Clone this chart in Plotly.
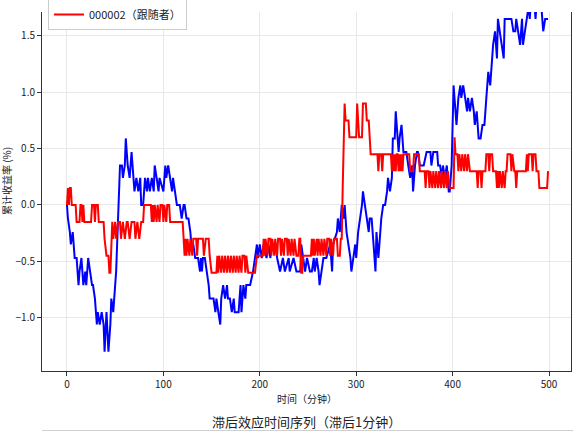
import plotly.graph_objects as go

# Leader (blue) cumulative % change, sampled at readable breakpoints (minute, value)
leader_t = [0,1,3,4,6,8,10,12,13,15,17,19,20,22,24,26,27,29,31,32,34,36,38,39,41,43,45,46,48,50,51,53,55,57,58,60,61,63,65,67,69,70,72,74,76,77,79,81,83,84,86,88,90,91,93,95,96,100,102,103,105,107,109,110,112,114,117,119,121,122,124,126,128,129,131,133,136,138,139,140,141,143,145,147,148,152,154,155,157,159,160,162,164,166,167,169,171,173,174,178,180,181,183,185,186,190,193,195,197,198,200,202,204,207,209,211,212,216,218,221,224,226,230,231,235,238,242,243,245,247,249,252,254,256,257,259,261,262,264,266,269,273,275,276,280,281,283,285,287,288,290,292,294,295,297,299,300,302,304,306,307,309,311,313,314,316,318,320,321,323,325,326,328,330,332,333,335,337,338,340,341,344,345,347,349,352,354,356,358,359,361,363,364,366,370,373,377,378,380,384,385,387,389,390,392,394,396,397,399,401,403,404,406,408,409,411,413,415,416,418,420,422,423,425,427,429,431,433,435,437,439,441,442,444,446,447,449,451,453,454,461,463,465,466,468,470,472,473,475,477,479,480,481,485,486,487,492,493,494,496,499]
leader_v = [0,-0.12,-0.24,-0.35,-0.24,-0.47,-0.47,-0.71,-0.59,-0.47,-0.71,-0.59,-0.71,-0.47,-0.59,-0.71,-0.71,-0.83,-1.06,-0.95,-1.06,-0.95,-1.06,-1.30,-0.95,-1.30,-1.06,-0.83,-0.95,-0.71,-0.59,-0.12,0.35,0.35,0.24,0.35,0.59,0.35,0.24,0.47,0.24,0.12,0.24,0.12,0.24,0.0,0.0,0.24,0.12,0.24,0.12,0.24,0.12,0.35,0.24,0.12,0.24,0.12,0.35,0.24,0.35,0.24,0.12,0.24,0.12,0.0,0.0,-0.12,0.0,0.0,-0.12,-0.12,-0.24,-0.35,-0.35,-0.47,-0.47,-0.59,-0.47,-0.59,-0.47,-0.47,-0.59,-0.71,-0.83,-0.83,-0.95,-0.83,-0.95,-1.06,-0.83,-0.71,-0.83,-0.71,-0.83,-0.83,-0.95,-0.83,-0.95,-0.95,-0.71,-0.95,-0.71,-0.83,-0.71,-0.71,-0.59,-0.47,-0.35,-0.47,-0.35,-0.47,-0.35,-0.47,-0.35,-0.47,-0.35,-0.35,-0.47,-0.59,-0.47,-0.59,-0.47,-0.59,-0.47,-0.59,-0.59,-0.35,-0.47,-0.59,-0.47,-0.59,-0.59,-0.47,-0.59,-0.47,-0.59,-0.71,-0.59,-0.47,-0.47,-0.35,-0.59,-0.35,-0.24,-0.12,-0.24,0.0,-0.12,0.0,-0.24,-0.35,-0.47,-0.59,-0.47,-0.35,-0.47,-0.24,-0.12,0.0,0.12,0.0,-0.12,-0.24,-0.12,-0.12,-0.35,-0.59,-0.24,-0.47,-0.24,-0.12,0.0,0.0,0.12,0.24,0.12,0.24,0.59,0.59,0.83,0.47,0.59,0.71,0.47,0.47,0.35,0.24,0.35,0.12,0.35,0.47,0.47,0.35,0.35,0.47,0.47,0.35,0.47,0.47,0.35,0.35,0.24,0.35,0.24,0.35,0.12,0.12,0.35,1.06,0.83,0.71,0.95,1.06,0.95,1.06,0.95,0.83,0.95,0.83,0.95,0.83,0.71,0.83,0.59,0.59,0.71,0.71,0.95,1.18,1.06,1.30,1.42,1.54,1.30,1.65,1.54,1.42,1.30,1.65,1.65,1.54,1.54,1.65,1.54,1.42,1.65,1.42,1.54,1.65,1.77,1.65,1.77,1.77,1.65,1.77,1.77,1.65,1.54,1.65,1.65]

# Follower (red) cumulative % change
follower_t = [0,1,2,3,4,5,9,10,13,14,15,16,17,18,25,26,28,29,30,32,33,38,39,41,43,44,45,46,47,48,50,51,53,55,56,58,60,62,63,65,67,70,71,73,75,77,79,80,87,88,89,90,91,93,94,96,97,99,100,101,103,104,106,107,120,121,122,123,124,125,127,128,130,131,134,135,136,141,142,144,147,148,150,155,156,157,158,160,161,163,164,166,167,169,170,172,173,175,176,178,179,181,182,184,185,186,188,195,197,203,204,205,206,208,209,211,212,213,215,216,218,219,221,222,223,225,226,228,229,230,232,233,235,236,238,240,241,242,243,244,245,253,254,255,256,257,259,260,261,263,264,266,267,269,270,272,273,274,276,277,280,281,283,284,285,286,288,289,292,293,300,301,302,303,306,307,310,311,313,314,315,322,323,324,326,327,328,336,337,338,339,340,341,342,343,344,345,346,347,348,349,355,356,359,360,365,366,371,372,373,375,376,377,379,380,382,383,385,386,388,389,391,392,394,395,397,401,402,403,405,406,407,409,410,412,413,415,416,418,425,426,427,429,430,431,434,435,437,438,439,441,442,445,446,447,448,449,451,452,454,455,456,457,460,461,462,464,465,466,467,476,477,478,479,482,483,484,486,487,489,490,497,498,499]
follower_v = [0,0.15,0.0,0.15,0.15,0.0,0.0,-0.15,-0.15,0.0,0.0,-0.15,0.0,-0.15,-0.15,0.0,0.0,-0.15,0.0,0.0,-0.15,-0.15,-0.3,-0.45,-0.45,-0.6,-0.6,-0.3,-0.15,-0.3,-0.15,-0.3,-0.15,-0.15,-0.3,-0.15,-0.3,-0.15,-0.15,-0.3,-0.15,-0.15,-0.3,-0.15,-0.3,-0.15,-0.15,0.0,0.0,-0.15,0.0,-0.15,0.0,-0.15,0.0,-0.15,0.0,0.0,-0.15,0.0,-0.15,0.0,0.0,-0.15,-0.15,-0.3,-0.45,-0.3,-0.45,-0.3,-0.45,-0.3,-0.45,-0.3,-0.3,-0.45,-0.3,-0.3,-0.45,-0.3,-0.3,-0.45,-0.6,-0.6,-0.45,-0.6,-0.45,-0.6,-0.45,-0.6,-0.45,-0.6,-0.45,-0.6,-0.45,-0.6,-0.45,-0.6,-0.45,-0.6,-0.45,-0.6,-0.45,-0.45,-0.6,-0.45,-0.6,-0.6,-0.45,-0.45,-0.3,-0.45,-0.3,-0.45,-0.3,-0.3,-0.45,-0.3,-0.45,-0.3,-0.45,-0.3,-0.3,-0.45,-0.3,-0.45,-0.3,-0.3,-0.45,-0.3,-0.45,-0.3,-0.45,-0.3,-0.45,-0.45,-0.3,-0.3,-0.6,-0.6,-0.45,-0.45,-0.3,-0.45,-0.3,-0.45,-0.3,-0.45,-0.3,-0.45,-0.3,-0.45,-0.3,-0.45,-0.3,-0.3,-0.45,-0.3,-0.45,-0.3,-0.3,-0.45,-0.45,-0.3,-0.3,0.15,0.9,0.75,0.75,0.6,0.6,0.9,0.75,0.6,0.6,0.9,0.9,0.75,0.75,0.6,0.45,0.45,0.3,0.45,0.45,0.3,0.45,0.45,0.3,0.45,0.3,0.45,0.3,0.45,0.45,0.3,0.45,0.3,0.45,0.3,0.45,0.45,0.3,0.3,0.45,0.45,0.3,0.3,0.15,0.3,0.3,0.15,0.3,0.15,0.3,0.15,0.3,0.15,0.3,0.15,0.3,0.15,0.3,0.15,0.3,0.15,0.15,0.6,0.45,0.45,0.3,0.45,0.3,0.45,0.3,0.45,0.3,0.45,0.3,0.3,0.15,0.3,0.3,0.15,0.3,0.3,0.45,0.45,0.3,0.45,0.45,0.3,0.3,0.15,0.3,0.15,0.3,0.15,0.3,0.15,0.3,0.3,0.45,0.45,0.3,0.45,0.3,0.3,0.15,0.3,0.3,0.45,0.3,0.45,0.45,0.3,0.45,0.45,0.3,0.3,0.15,0.15,0.15,0.3]

leader_name = "000001（领先者）"
follower_name = "000002（跟随者）"
x_title = "时间（分钟）"
y_title = "累计收益率 (%)"
chart_title = "滞后效应时间序列（滞后1分钟）"
x_ticks = [0, 100, 200, 300, 400, 500]
y_ticks = [-1.0, -0.5, 0.0, 0.5, 1.0, 1.5]

FONT = "Noto Sans CJK SC, Noto Sans, sans-serif"
W, H = 573, 432
L, R, T, B = 42, 2, 12, 61
plot_h = H - T - B

fig = go.Figure()
fig.add_trace(go.Scatter(x=leader_t, y=leader_v, mode="lines", name=leader_name,
                         legendgroup="leader",
                         line=dict(color="#0000ff", width=2)))
fig.add_trace(go.Scatter(x=follower_t, y=follower_v, mode="lines", name=follower_name,
                         legendgroup="follower",
                         line=dict(color="#ff0000", width=2)))

axis_common = dict(showline=True, linecolor="#333333", linewidth=1, ticks="outside",
                   ticklen=4, tickcolor="#333333", tickwidth=1, showgrid=True,
                   gridcolor="#e8e8e8", gridwidth=1, zeroline=False,
                   tickfont=dict(family=FONT, size=10, color="#222222"))

fig.update_xaxes(range=[-25.9, 522.8], tickvals=x_ticks, **axis_common)
fig.update_yaxes(range=[-1.472, 1.711], tickvals=y_ticks, tickformat=".1f",
                 mirror=True, **axis_common)

def py_to_paper(py):
    return (H - B - py) / plot_h

fig.add_annotation(text=x_title, xref="paper", yref="paper", x=0.5, y=py_to_paper(398),
                   showarrow=False, font=dict(family=FONT, size=10, color="#222222"),
                   xanchor="center", yanchor="middle")
fig.add_annotation(text=chart_title, xref="paper", yref="paper", x=0.5, y=py_to_paper(421),
                   showarrow=False, font=dict(family=FONT, size=13, color="#222222"),
                   xanchor="center", yanchor="middle")
fig.add_annotation(text=y_title, xref="paper", yref="paper", x=(6 - L) / (W - L - R),
                   y=py_to_paper(181), showarrow=False, textangle=-90,
                   font=dict(family=FONT, size=10, color="#222222"),
                   xanchor="center", yanchor="middle")
fig.add_shape(type="line", xref="paper", yref="paper", x0=0, x1=(W - L) / (W - L - R),
              y0=py_to_paper(430.5), y1=py_to_paper(430.5),
              line=dict(color="#d0d0d0", width=1))

fig.update_layout(
    width=W, height=H,
    margin=dict(l=L, r=R, t=T, b=B, autoexpand=False),
    paper_bgcolor="white", plot_bgcolor="white",
    font=dict(family=FONT, size=11, color="#222222"),
    showlegend=True,
    legend=dict(x=(48 - L) / (W - L - R), xanchor="left",
                y=py_to_paper(30), yanchor="bottom", tracegroupgap=12,
                bgcolor="rgba(255,255,255,0.9)", bordercolor="#cccccc", borderwidth=1,
                font=dict(family=FONT, size=11, color="#222222")),
)

fig.write_html("out.html", config={"displayModeBar": False},
               post_script="document.body.style.margin='0';document.body.style.overflow='hidden';")
